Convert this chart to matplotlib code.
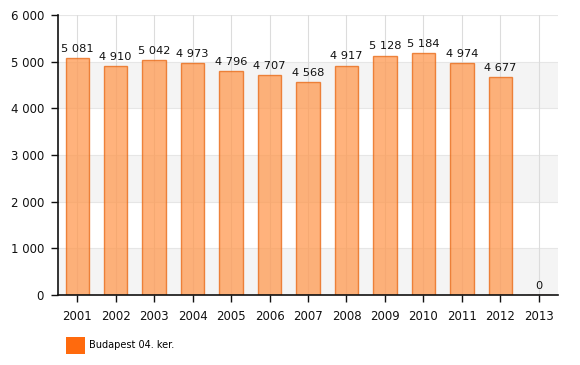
import matplotlib
matplotlib.use("Agg")
import matplotlib.pyplot as plt
from matplotlib.patches import Patch

years = ["2001", "2002", "2003", "2004", "2005", "2006", "2007", "2008", "2009", "2010", "2011", "2012", "2013"]
values = [5081, 4910, 5042, 4973, 4796, 4707, 4568, 4917, 5128, 5184, 4974, 4677, 0]
series_name = "Budapest 04. ker."

def fmt(v):
    return f"{int(v):,}".replace(",", " ")

fig = plt.figure(figsize=(5.8, 3.65), dpi=100)
ax = fig.add_axes([58/580, 1 - 295/365, 500/580, 280/365])

ymax = 6000
for i, lo in enumerate(range(0, ymax, 1000)):
    if i % 2 == 0:
        ax.axhspan(lo, lo + 1000, color="#f4f4f4", zorder=0, lw=0)
for lo in range(1000, ymax + 1, 1000):
    ax.axhline(lo, color="#e6e6e6", lw=0.8, zorder=0.5)

x = list(range(len(years)))
for xi in x:
    ax.axvline(xi, color="#dcdcdc", lw=0.8, zorder=0.6)

bars = ax.bar(x, values, width=0.61, color="#ff9950", alpha=0.75, edgecolor="#e8650f",
              linewidth=1.0, zorder=2)
for b in bars:
    b.set_edgecolor("#e8650f")

for xi, v in zip(x, values):
    ax.text(xi, v + 90, fmt(v), ha="center", va="bottom", fontsize=8.2, color="#111111", zorder=3)

ax.set_xlim(-0.5, len(years) - 0.5)
ax.set_ylim(0, ymax)
ax.set_xticks(x)
ax.set_xticklabels(years)
ax.set_yticks(range(0, ymax + 1, 1000))
ax.set_yticklabels([fmt(v) for v in range(0, ymax + 1, 1000)])
ax.tick_params(axis="both", labelsize=8.5, colors="#111111", length=5, width=1)
ax.tick_params(axis="x", pad=6)
ax.tick_params(axis="y", pad=5)
for s in ["top", "right"]:
    ax.spines[s].set_visible(False)
for s in ["left", "bottom"]:
    ax.spines[s].set_color("#111111")
    ax.spines[s].set_linewidth(1.2)

handle = Patch(facecolor="#ff6a0d", edgecolor="none")
fig.legend([handle], [series_name], loc="upper left", bbox_to_anchor=(58/580, 1 - 329/365),
           frameon=False, fontsize=7, handlelength=1.95, handleheight=2.3, handletextpad=0.45,
           borderpad=0.3)

fig.savefig("out.png", dpi=100)
